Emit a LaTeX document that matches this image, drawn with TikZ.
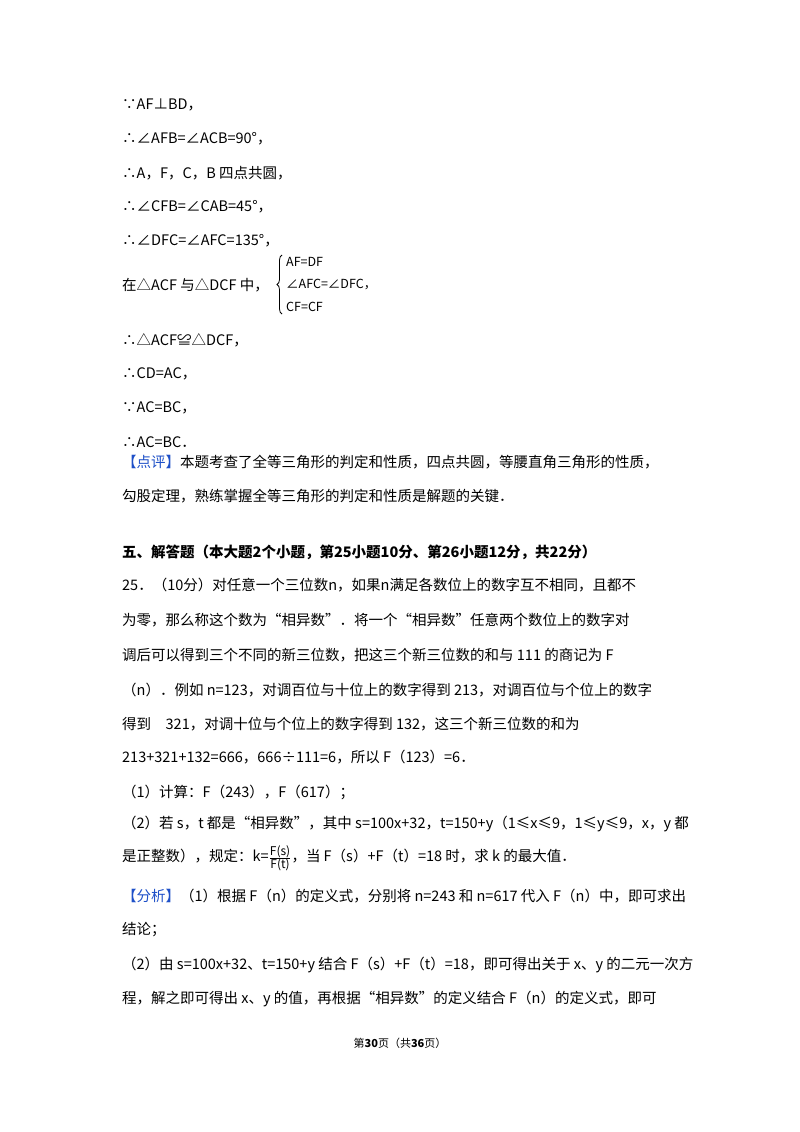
\documentclass[tikz,border=0pt]{standalone}
\usepackage{fontspec}
\usetikzlibrary{decorations.pathreplacing}
\setmainfont{Noto Sans CJK SC}
\definecolor{pj}{RGB}{30,80,200}
\begin{document}
\begin{tikzpicture}[x=1pt,y=-1pt,
  ln/.style={anchor=west,inner sep=0pt,font=\fontsize{14.5}{16}\selectfont},
  sm/.style={anchor=west,inner sep=0pt,font=\fontsize{12.5}{14}\selectfont}]
\useasboundingbox[fill=white] (0,0) rectangle (800,1132);
\node[ln] (l1) at (122,105) {∵AF⊥BD，};
\node[ln] (l2) at (122,139) {∴∠AFB=∠ACB=90°，};
\node[ln] (l3) at (122,173) {∴A，F，C，B 四点共圆，};
\node[ln] (l4) at (122,207) {∴∠CFB=∠CAB=45°，};
\node[ln] (l5) at (122,241) {∴∠DFC=∠AFC=135°，};
\node[ln] (l6) at (122,285) {在△ACF 与△DCF 中，};
\coordinate (bt) at (282,255);
\coordinate (bb) at (282,314);
\draw[decorate,decoration={brace,amplitude=5pt},line width=0.8pt] (bb) -- (bt);
\node[sm] (s1) at (286,262) {AF=DF};
\node[sm] (s2) at (286,285) {∠AFC=∠DFC，};
\node[sm] (s3) at (286,307) {CF=CF};
\node[ln] (l7) at (122,340) {∴△ACF≌△DCF，};
\node[ln] (l8) at (122,374) {∴CD=AC，};
\node[ln] (l9) at (122,408) {∵AC=BC，};
\node[ln] (l10) at (122,442) {∴AC=BC．};
\node[ln] (l11) at (122,462) {{\color{pj}【点评】}本题考查了全等三角形的判定和性质，四点共圆，等腰直角三角形的性质，};
\node[ln] (l12) at (122,496) {勾股定理，熟练掌握全等三角形的判定和性质是解题的关键．};
\node[ln,font=\fontsize{14.5}{16}\selectfont\bfseries] (h) at (122,552) {五、解答题（本大题2个小题，第25小题10分、第26小题12分，共22分）};
\node[ln] (p1) at (122,585) {25．（10分）对任意一个三位数n，如果n满足各数位上的数字互不相同，且都不};
\node[ln] (p2) at (122,620) {为零，那么称这个数为“相异数”．将一个“相异数”任意两个数位上的数字对};
\node[ln] (p3) at (122,655) {调后可以得到三个不同的新三位数，把这三个新三位数的和与 111 的商记为 F};
\node[ln] (p4) at (122,690) {（n）．例如 n=123，对调百位与十位上的数字得到 213，对调百位与个位上的数字};
\node[ln] (p5) at (122,724) {得到　321，对调十位与个位上的数字得到 132，这三个新三位数的和为};
\node[ln] (p6) at (122,757) {213+321+132=666，666÷111=6，所以 F（123）=6．};
\node[ln] (p7) at (122,792) {（1）计算：F（243），F（617）；};
\node[ln] (p8) at (122,824) {（2）若 s，t 都是“相异数”，其中 s=100x+32，t=150+y（1≤x≤9，1≤y≤9，x，y 都};
\node[ln] (p9) at (122,858) {是正整数），规定：k=$\frac{\mbox{\fontsize{12}{14}\selectfont F(s)}}{\mbox{\fontsize{12}{14}\selectfont F(t)}}$，当 F（s）+F（t）=18 时，求 k 的最大值．};
\node[ln] (a1) at (122,896) {{\color{pj}【分析】}（1）根据 F（n）的定义式，分别将 n=243 和 n=617 代入 F（n）中，即可求出};
\node[ln] (a2) at (122,930) {结论；};
\node[ln] (a3) at (122,965) {（2）由 s=100x+32、t=150+y 结合 F（s）+F（t）=18，即可得出关于 x、y 的二元一次方};
\node[ln] (a4) at (122,999) {程，解之即可得出 x、y 的值，再根据“相异数”的定义结合 F（n）的定义式，即可};
\node[anchor=center,inner sep=0pt,font=\fontsize{11}{13}\selectfont] (ft) at (400,1043) {第\textbf{30}页（共\textbf{36}页）};
\end{tikzpicture}
\end{document}
